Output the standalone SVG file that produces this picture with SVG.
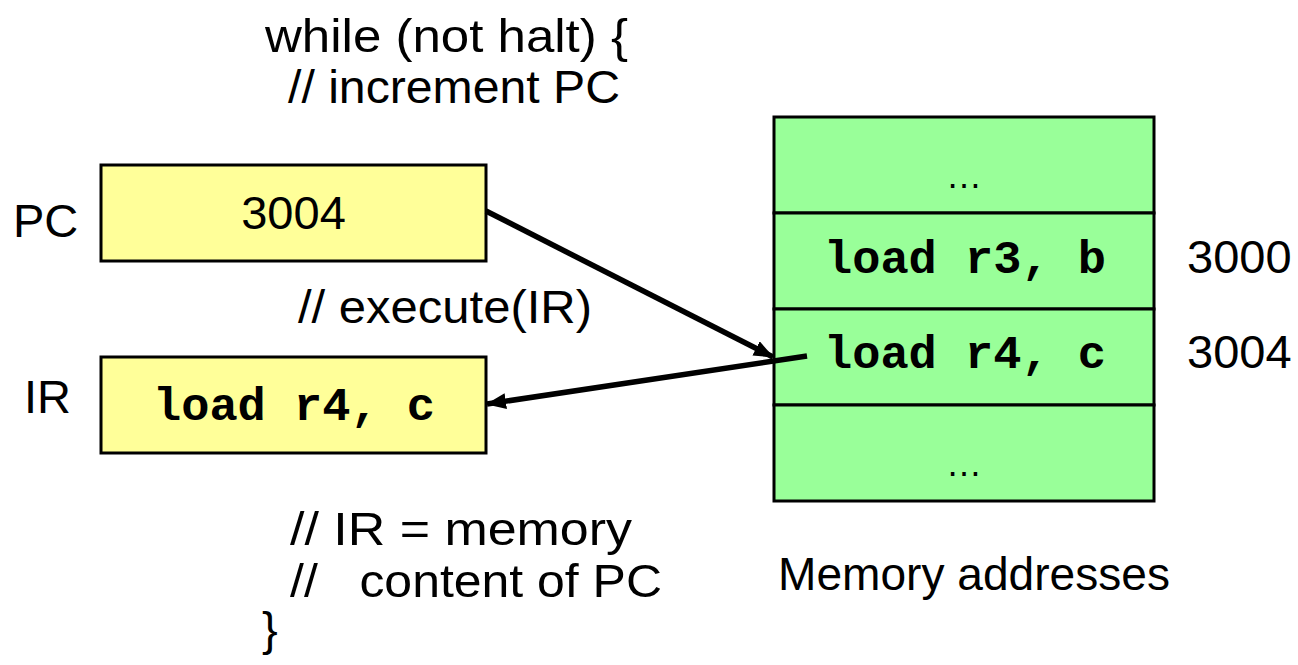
<svg xmlns="http://www.w3.org/2000/svg" width="1298" height="665" viewBox="0 0 1298 665">
<style>
.t{font-family:"Liberation Sans",Arial,sans-serif;font-size:47px;fill:#000}
.m{font-family:"Liberation Mono","Courier New",monospace;font-size:47px;font-weight:bold;fill:#000}
.d{font-family:"Liberation Sans",Arial,sans-serif;font-size:36px;fill:#000}
.reg{fill:#ffff99;stroke:#000;stroke-width:3}
.mem{fill:#99ff99;stroke:#000;stroke-width:3}
.arr{stroke:#000;stroke-width:5.5;fill:none}
</style>
<defs>
<marker id="ah" markerUnits="userSpaceOnUse" markerWidth="20" markerHeight="16" viewBox="0 0 20 16" refX="19" refY="8" orient="auto">
<path d="M0,0 L20,8 L0,16 Z" fill="#000"/>
</marker>
</defs>
<g id="code">
<text class="t" x="265" y="52" textLength="363" lengthAdjust="spacingAndGlyphs">while (not halt) {</text>
<text class="t" x="288" y="103" textLength="332" lengthAdjust="spacingAndGlyphs">// increment PC</text>
<text class="t" x="298" y="323" textLength="294" lengthAdjust="spacingAndGlyphs">// execute(IR)</text>
<text class="t" x="290" y="545" textLength="342" lengthAdjust="spacingAndGlyphs">// IR = memory</text>
<text class="t" x="290" y="597" xml:space="preserve" style="white-space:pre" textLength="372" lengthAdjust="spacingAndGlyphs">//   content of PC</text>
<text class="t" x="262" y="645">}</text>
</g>
<g id="pc">
<text class="t" x="13" y="237">PC</text>
<rect class="reg" x="101" y="165" width="385" height="96"/>
<text class="t" x="293.5" y="229" text-anchor="middle">3004</text>
</g>
<g id="ir">
<text class="t" x="24" y="413">IR</text>
<rect class="reg" x="101" y="357" width="385" height="96"/>
<text class="m" x="294" y="420" text-anchor="middle">load r4, c</text>
</g>
<g id="memory">
<rect class="mem" x="774" y="117" width="380" height="96"/>
<rect class="mem" x="774" y="213" width="380" height="96"/>
<rect class="mem" x="774" y="309" width="380" height="96"/>
<rect class="mem" x="774" y="405" width="380" height="96"/>
<text class="d" x="964" y="188" text-anchor="middle">…</text>
<text class="m" x="965" y="273" text-anchor="middle">load r3, b</text>
<text class="m" x="965" y="368" text-anchor="middle">load r4, c</text>
<text class="d" x="964" y="476" text-anchor="middle">…</text>
<text class="t" x="1187" y="273">3000</text>
<text class="t" x="1187" y="368">3004</text>
<text class="t" x="778" y="590" textLength="392" lengthAdjust="spacingAndGlyphs">Memory addresses</text>
</g>
<g id="connectors">
<line class="arr" x1="486" y1="211" x2="773" y2="357" marker-end="url(#ah)"/>
<line class="arr" x1="807" y1="356" x2="487" y2="404" marker-end="url(#ah)"/>
</g>
</svg>
